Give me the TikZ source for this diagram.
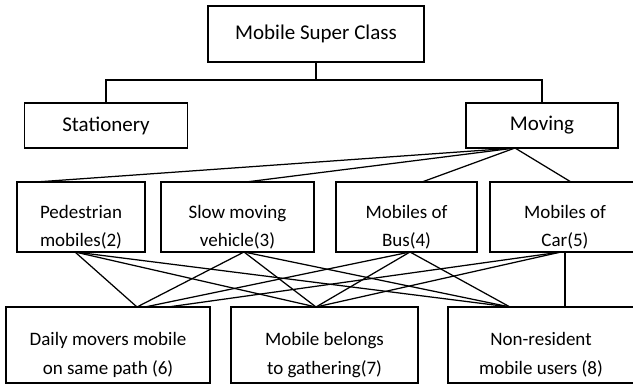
\documentclass[tikz,border=0pt]{standalone}
\usepackage{fontspec}
\setmainfont{Carlito}
\begin{document}
\begin{tikzpicture}[x=1pt,y=-1pt]
			\tikzset{box/.style = {draw, line width=1.3pt, inner sep=0pt, align=center, font=\fontsize{21}{27}\selectfont}}
			\tikzset{lowbox/.style = {box, font=\fontsize{19}{#1}\selectfont, execute at begin node={\rule{0pt}{62pt}}}}
			\tikzset{link/.style = {line width=1.25pt}}
			\useasboundingbox (0,0) rectangle (633,385);
			\clip (0,0) rectangle (633,385);
			% Draw the classes
			\node[box, minimum width=216, minimum height=56] (super) at (316,34) {Mobile Super Class};
			\node[box, minimum width=163, minimum height=45] (stat) at (106,125.5) {Stationery};
			\node[box, minimum width=152, minimum height=45] (moving) at (542,125.5) {Moving};
			\node[lowbox=28, minimum width=128, minimum height=70] (ped) at (81,217) {Pedestrian\\mobiles(2)};
			\node[lowbox=28, minimum width=153, minimum height=70] (slow) at (237.5,217) {Slow moving\\vehicle(3)};
			\node[lowbox=28, minimum width=141, minimum height=70] (bus) at (406.5,217) {Mobiles of\\Bus(4)};
			\node[lowbox=28, minimum width=150, minimum height=70] (car) at (565,217) {Mobiles of\\Car(5)};
			\node[lowbox=29, minimum width=204, minimum height=76] (daily) at (108,345) {Daily movers mobile\\on same path (6)};
			\node[lowbox=29, minimum width=187, minimum height=76] (gather) at (324.5,345) {Mobile belongs\\to gathering(7)};
			\node[lowbox=29, minimum width=186, minimum height=76] (nonres) at (541,345) {Non-resident\\mobile users (8)};
			% Attach points
			\coordinate (fork) at (316,80);
			\coordinate (moving-out) at (515,148);
			\coordinate (ped-in) at (36,182);
			\coordinate (slow-in) at (246,182);
			\coordinate (bus-in) at (422,182);
			\coordinate (car-in) at (571,182);
			\coordinate (ped-out) at (75,252);
			\coordinate (slow-out) at (244,252);
			\coordinate (bus-out) at (410,252);
			\coordinate (car-out) at (561,252);
			\coordinate (daily-a) at (137,307);
			\coordinate (daily-b) at (145,307);
			\coordinate (daily-c) at (168,307);
			\coordinate (gather-in) at (316,307);
			\coordinate (nonres-in) at (510,307);
			% Draw the tree
			\draw[link] (super.south) -- (fork);
			\draw[link] (stat.north) |- (fork) -| (moving.north);
			\foreach \n in {ped,slow,bus,car}
				\draw[link] (moving-out) -- (\n-in);
			\foreach \n in {ped,slow,bus,car}
				\draw[link] (\n-out) -- (gather-in);
			\foreach \n in {ped,slow,bus}
				\draw[link] (\n-out) -- (nonres-in);
			\draw[link] (ped-out) -- (daily-a);
			\draw[link] (slow-out) -- (daily-a);
			\draw[link] (bus-out) -- (daily-b);
			\draw[link] (car-out) -- (daily-c);
			\draw[link] (car.south) -- (car.south |- nonres.north);
		\end{tikzpicture}
\end{document}
